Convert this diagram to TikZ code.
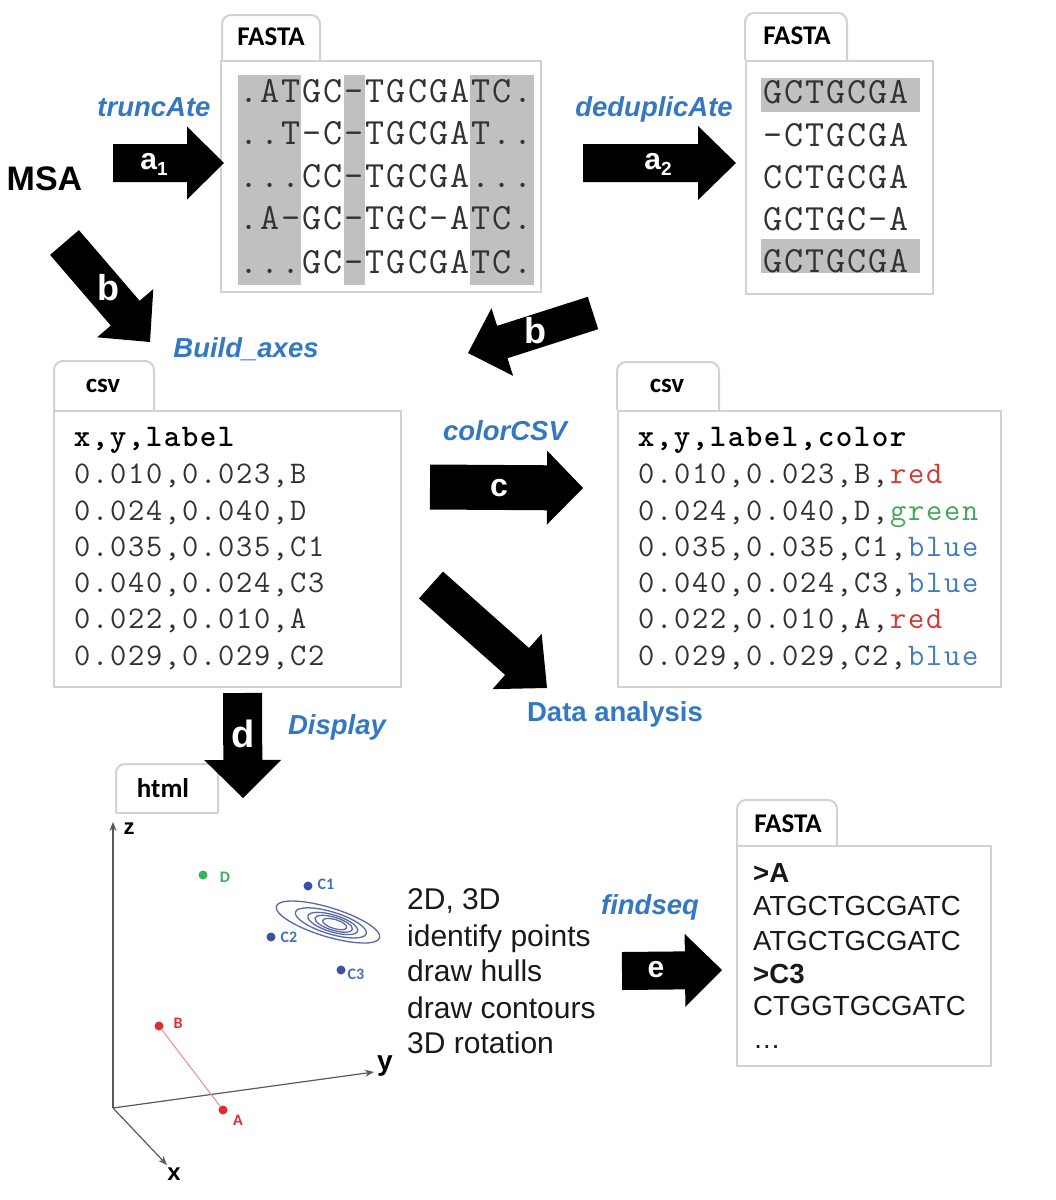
\documentclass[tikz,border=0pt]{standalone}
\usepackage{fontspec}
\setmainfont{Liberation Sans}
\newfontfamily\calib{Carlito}
\usetikzlibrary{calc,arrows.meta}
\definecolor{lblue}{RGB}{52,120,195}
\definecolor{boxgray}{RGB}{210,210,210}
\definecolor{hlgray}{RGB}{192,192,192}
\definecolor{txtgray}{RGB}{50,50,50}
\definecolor{cred}{RGB}{215,55,50}
\definecolor{cgreen}{RGB}{70,165,95}
\definecolor{cblue}{RGB}{65,125,190}
\definecolor{ptblue}{RGB}{60,80,165}
\definecolor{ptred}{RGB}{225,45,45}
\definecolor{ptgreen}{RGB}{60,175,90}
\definecolor{contour}{RGB}{90,105,165}
\definecolor{axisgray}{RGB}{90,90,90}
\newlength\cellw
\newcommand\gridline[1]{\gridloop#1\relax}
\def\gridloop#1{\ifx\relax#1\else\makebox[\cellw][c]{#1}\expandafter\gridloop\fi}
\newcommand\blockarrow[5]{%
  \coordinate (#1hb) at ($(#2)!#5!(#1)$);
  \fill[black] ($(#1)!#3!90:(#2)$) -- ($(#1hb)!#3!90:(#2)$) -- ($(#1hb)!#4!90:(#2)$) -- (#2)
    -- ($(#1hb)!#4!-90:(#2)$) -- ($(#1hb)!#3!-90:(#2)$) -- ($(#1)!#3!-90:(#2)$) -- cycle;}
\newcommand\tabshape[4]{%
  \draw[tabline, rounded corners=9pt] (#1,#4) -- (#1,#2) -- (#3,#2) -- (#3,#4);}
\begin{document}
\begin{tikzpicture}[x=1pt,y=-1pt,
  panel/.style={draw=boxgray, line width=2pt, fill=white, inner sep=0, anchor=north west},
  tabline/.style={draw=boxgray, line width=2pt},
  tabtext/.style={font=\calib\bfseries\fontsize{27}{27}\selectfont, inner sep=0},
  fname/.style={font=\bfseries\itshape\fontsize{27.5}{30}\selectfont, text=lblue, inner sep=0, anchor=base},
  arrlbl/.style={text=white, font=\bfseries\fontsize{32}{32}\selectfont, inner sep=0},
  seqtxt/.style={anchor=base west, inner sep=0, text=txtgray, font={\ttfamily\fontsize{37}{37}\selectfont\setlength\cellw{21.1pt}}},
  csvtxt/.style={anchor=base west, inner sep=0, text=txtgray, font={\ttfamily\fontsize{31.5}{31.5}\selectfont\setlength\cellw{18pt}}},
  plain/.style={anchor=base west, inner sep=0, font=\fontsize{30}{30}\selectfont, text=black!90},
  fasta/.style={anchor=base west, inner sep=0, font=\fontsize{27.6}{27.6}\selectfont, text=black!90},
  pt/.style={circle, inner sep=0, minimum size=9pt},
  ptlbl/.style={font=\calib\bfseries\fontsize{16}{16}\selectfont, inner sep=0},
  axis/.style={draw=axisgray, line width=1.2pt, -{Stealth[length=9pt,width=7pt]}},
  axlbl/.style={font=\bfseries\fontsize{24}{24}\selectfont, inner sep=0}
]
\fill[white] (0,0) rectangle (1056,1200);

% ---------- MSA ----------
\node[font=\bfseries\fontsize{34}{34}\selectfont, anchor=base, inner sep=0] (msa) at (44.5,190) {MSA};

% ---------- FASTA box 1 ----------
\tabshape{222}{15}{320}{60}
\node[tabtext] (tabF1) at (271,37) {FASTA};
\node[panel, minimum width=320pt, minimum height=231pt] (fastaA) at (220,60) {};
\fill[hlgray] (238,75) rectangle (301,285);
\fill[hlgray] (344,75) rectangle (365,285);
\fill[hlgray] (470,75) rectangle (534,285);
\node[seqtxt] (fa1) at (238,102.5) {\gridline{.ATGC-TGCGATC.}};
\node[seqtxt] (fa2) at (238,144) {\gridline{..T-C-TGCGAT..}};
\node[seqtxt] (fa3) at (238,187) {\gridline{...CC-TGCGA...}};
\node[seqtxt] (fa4) at (238,229) {\gridline{.A-GC-TGC-ATC.}};
\node[seqtxt] (fa5) at (238,273) {\gridline{...GC-TGCGATC.}};

% ---------- FASTA box 2 ----------
\tabshape{745}{13}{847}{60}
\node[tabtext] (tabF2) at (797,36) {FASTA};
\node[panel, minimum width=187pt, minimum height=233pt] (fastaB) at (745,60) {};
\fill[hlgray] (761,78) rectangle (920,112);
\fill[hlgray] (761,239) rectangle (920,273);
\node[seqtxt] (fb1) at (762,103) {\gridline{GCTGCGA}};
\node[seqtxt] (fb2) at (762,146) {\gridline{-CTGCGA}};
\node[seqtxt] (fb3) at (762,188) {\gridline{CCTGCGA}};
\node[seqtxt] (fb4) at (762,230) {\gridline{GCTGC-A}};
\node[seqtxt] (fb5) at (762,272) {\gridline{GCTGCGA}};

% ---------- CSV left ----------
\tabshape{54}{361}{154}{410}
\node[tabtext] (tabC1) at (103,386) {csv};
\node[panel, minimum width=347pt, minimum height=276pt] (csvA) at (53,410) {};
\node[csvtxt, text=black] (ca0) at (73,446) {\bfseries\gridline{x,y,label}};
\node[csvtxt] (ca1) at (73,483) {\gridline{0.010,0.023,B}};
\node[csvtxt] (ca2) at (73,520) {\gridline{0.024,0.040,D}};
\node[csvtxt] (ca3) at (73,556) {\gridline{0.035,0.035,C1}};
\node[csvtxt] (ca4) at (73,592) {\gridline{0.040,0.024,C3}};
\node[csvtxt] (ca5) at (73,628) {\gridline{0.022,0.010,A}};
\node[csvtxt] (ca6) at (73,665) {\gridline{0.029,0.029,C2}};

% ---------- CSV right ----------
\tabshape{617}{362}{719}{410}
\node[tabtext] (tabC2) at (667,386) {csv};
\node[panel, minimum width=383pt, minimum height=276pt] (csvB) at (617,410) {};
\node[csvtxt, text=black] (cb0) at (637,446) {\bfseries\gridline{x,y,label,color}};
\node[csvtxt] (cb1) at (637,483) {\gridline{0.010,0.023,B,}\textcolor{cred}{\gridline{red}}};
\node[csvtxt] (cb2) at (637,520) {\gridline{0.024,0.040,D,}\textcolor{cgreen}{\gridline{green}}};
\node[csvtxt] (cb3) at (637,556) {\gridline{0.035,0.035,C1,}\textcolor{cblue}{\gridline{blue}}};
\node[csvtxt] (cb4) at (637,592) {\gridline{0.040,0.024,C3,}\textcolor{cblue}{\gridline{blue}}};
\node[csvtxt] (cb5) at (637,628) {\gridline{0.022,0.010,A,}\textcolor{cred}{\gridline{red}}};
\node[csvtxt] (cb6) at (637,665) {\gridline{0.029,0.029,C2,}\textcolor{cblue}{\gridline{blue}}};

% ---------- FASTA box 3 ----------
\tabshape{737}{800}{837}{845}
\node[tabtext] (tabF3) at (788,824) {FASTA};
\node[panel, minimum width=254pt, minimum height=220pt] (fastaC) at (736,845) {};
\node[fasta] (fc1) at (753,882) {\bfseries >A};
\node[fasta] (fc2) at (753,915) {ATGCTGCGATC};
\node[fasta] (fc3) at (753,950) {ATGCTGCGATC};
\node[fasta] (fc4) at (753,983) {\bfseries >C3};
\node[fasta] (fc5) at (753,1015) {CTGGTGCGATC};
\node[fasta] (fc6) at (753,1048) {…};

% ---------- html tab ----------
\tabshape{116}{764}{218}{813}
\draw[tabline] (116,813) -- (218,813);
\node[tabtext] (tabH) at (163,788) {html};

% ---------- feature list ----------
\node[plain] (l1) at (407,909) {2D, 3D};
\node[plain] (l2) at (407,946) {identify points};
\node[plain] (l3) at (407,981) {draw hulls};
\node[plain] (l4) at (407,1018) {draw contours};
\node[plain] (l5) at (407,1053) {3D rotation};

% ---------- function names ----------
\node[fname] (fTr) at (154,116) {truncAte};
\node[fname] (fDe) at (654,116) {deduplicAte};
\node[fname] (fBu) at (246,357) {Build\_axes};
\node[fname] (fCo) at (505,440) {colorCSV};
\node[fname, font=\bfseries\fontsize{27.5}{30}\selectfont] (fDa) at (615,721) {Data analysis};
\node[fname] (fDi) at (337,734) {Display};
\node[fname] (fFi) at (650,914) {findseq};

% ---------- block arrows ----------
\coordinate (a1t) at (113,163);   \coordinate (a1h) at (224,163);
\coordinate (a2t) at (583,163);   \coordinate (a2h) at (736,163);
\coordinate (b1t) at (64.5,242.5);\coordinate (b1h) at (150,342);
\coordinate (b2t) at (593,313);   \coordinate (b2h) at (468,353);
\coordinate (ct) at (430,487);    \coordinate (ch) at (583,488);
\coordinate (dat) at (431,585);   \coordinate (dah) at (547,688);
\coordinate (dt) at (242.5,693);  \coordinate (dh) at (243,798);
\coordinate (et) at (622,971);    \coordinate (eh) at (722,970);
\blockarrow{a1t}{a1h}{19pt}{36.5pt}{37pt}
\blockarrow{a2t}{a2h}{19pt}{37pt}{38pt}
\blockarrow{b1t}{b1h}{19pt}{37pt}{38pt}
\blockarrow{b2t}{b2h}{17pt}{35.5pt}{36pt}
\blockarrow{ct}{ch}{22.5pt}{37pt}{36pt}
\blockarrow{dat}{dah}{18pt}{37pt}{40pt}
\blockarrow{dt}{dh}{19.5pt}{38.5pt}{38pt}
\blockarrow{et}{eh}{19pt}{36.5pt}{37pt}
\node[arrlbl, font=\bfseries\fontsize{30}{30}\selectfont] (la1) at (154,164) {a\raisebox{-6pt}{\fontsize{19}{19}\selectfont 1}};
\node[arrlbl, font=\bfseries\fontsize{30}{30}\selectfont] (la2) at (658,164) {a\raisebox{-6pt}{\fontsize{19}{19}\selectfont 2}};
\node[arrlbl, font=\bfseries\fontsize{36}{36}\selectfont] (lb1) at (108,288) {b};
\node[arrlbl, font=\bfseries\fontsize{36}{36}\selectfont] (lb2) at (535,331) {b};
\node[arrlbl] (lc) at (499,488) {c};
\node[arrlbl, font=\bfseries\fontsize{38}{38}\selectfont] (ld) at (243,734) {d};
\node[arrlbl, font=\bfseries\fontsize{30}{30}\selectfont] (le) at (656,970) {e};

% ---------- 3D plot ----------
\coordinate (O) at (113,1108);
\coordinate (zt) at (113,822);
\coordinate (yt) at (374,1072);
\coordinate (xt) at (167,1165);
\draw[axis] (O) -- (zt);
\draw[axis] (O) -- (yt);
\draw[axis] (O) -- (xt);
\node[axlbl, font=\bfseries\fontsize{22}{22}\selectfont] (zl) at (129,829) {z};
\node[axlbl, font=\bfseries\fontsize{28}{28}\selectfont] (yl) at (385,1066) {y};
\node[axlbl] (xl) at (174,1174) {x};

\begin{scope}[shift={(328,922)}, rotate=-17, contour, line width=1.3pt]
  \draw (0,0) ellipse (54 and 14.5);
  \draw (3,0) ellipse (37 and 11);
  \draw (5,0) ellipse (26 and 8.5);
  \draw (6,0) ellipse (19.5 and 6.5);
  \draw (7,0) ellipse (12.5 and 4.5);
\end{scope}

\node[pt, fill=ptgreen] (D) at (203,875) {};
\node[pt, fill=ptblue] (C1) at (308,886) {};
\node[pt, fill=ptblue] (C2) at (271,937) {};
\node[pt, fill=ptblue] (C3) at (341,970) {};
\node[pt, fill=ptred] (B) at (159,1026) {};
\node[pt, fill=ptred] (A) at (223,1110) {};
\draw[ptred!55, line width=1pt] (B) -- (A);
\node[ptlbl, text=ptgreen] (Dl) at (225,877) {D};
\node[ptlbl, text=cblue!80!ptblue] (C1l) at (326,884) {C1};
\node[ptlbl, text=cblue!80!ptblue] (C2l) at (289,937) {C2};
\node[ptlbl, text=cblue!80!ptblue] (C3l) at (356,974) {C3};
\node[ptlbl, text=ptred] (Bl) at (178,1023) {B};
\node[ptlbl, text=ptred] (Al) at (238,1120) {A};
\end{tikzpicture}
\end{document}
